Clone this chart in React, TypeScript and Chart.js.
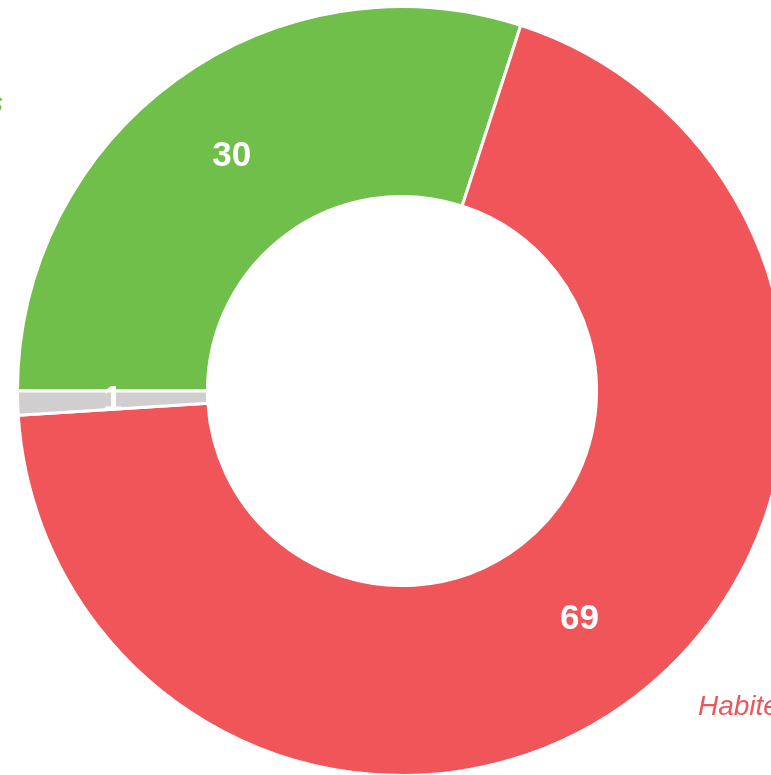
import React, { useEffect, useRef } from "react";
import { Chart, registerables } from "chart.js";

Chart.register(...registerables);

const LABELS = ["Uninhabited areas", "Habited areas", "Unknown"];
const VALUES = [30, 69, 1];
const COLORS = ["#70BF4B", "#F0555A", "#D0CECF"];
// where each outside label sits, relative to the chart centre (px) and its alignment
const OUTSIDE_LABEL_PLACEMENT: { dx: number; dy: number; align: CanvasTextAlign }[] = [
  { dx: -399, dy: -279, align: "right" },
  { dx: 296, dy: 324, align: "left" },
  { dx: -420, dy: 20, align: "right" },
];

const valueLabels = {
  id: "valueLabels",
  afterDatasetsDraw(chart: any) {
    const ctx = chart.ctx;
    const meta = chart.getDatasetMeta(0);
    ctx.save();
    meta.data.forEach((arc: any, i: number) => {
      const p = arc.tooltipPosition();
      ctx.font = "bold 35px 'Liberation Sans', Arial, Helvetica, sans-serif";
      ctx.fillStyle = "#ffffff";
      ctx.textAlign = "center";
      ctx.textBaseline = "middle";
      ctx.fillText(String(VALUES[i]), p.x, p.y);

      const pl = OUTSIDE_LABEL_PLACEMENT[i];
      ctx.font = "italic 28px 'Liberation Sans', Arial, Helvetica, sans-serif";
      ctx.fillStyle = COLORS[i];
      ctx.textAlign = pl.align;
      ctx.textBaseline = "alphabetic";
      ctx.fillText(LABELS[i], arc.x + pl.dx, arc.y + pl.dy);
    });
    ctx.restore();
  },
};

export default function App() {
  const ref = useRef<HTMLCanvasElement>(null);
  useEffect(() => {
    if (!ref.current) return;
    const chart = new Chart(ref.current, {
      type: "doughnut",
      data: {
        labels: LABELS,
        datasets: [
          {
            data: VALUES,
            backgroundColor: COLORS,
            borderColor: "#ffffff",
            borderWidth: 3,
          },
        ],
      },
      options: {
        responsive: false,
        animation: false,
        cutout: "50.6%",
        rotation: -90,
        layout: { padding: { left: 16, top: 5, right: 212, bottom: 223 } },
        plugins: {
          legend: { display: false },
          tooltip: { enabled: false },
        },
      },
      plugins: [valueLabels],
    });
    return () => chart.destroy();
  }, []);
  return (
    <div
      style={{
        position: "absolute",
        left: 0,
        top: 0,
        width: 771,
        height: 775,
        overflow: "hidden",
        background: "#ffffff",
      }}
    >
      <canvas
        ref={ref}
        width={1000}
        height={1000}
        style={{ position: "absolute", left: 0, top: 0, width: 1000, height: 1000 }}
      />
    </div>
  );
}
